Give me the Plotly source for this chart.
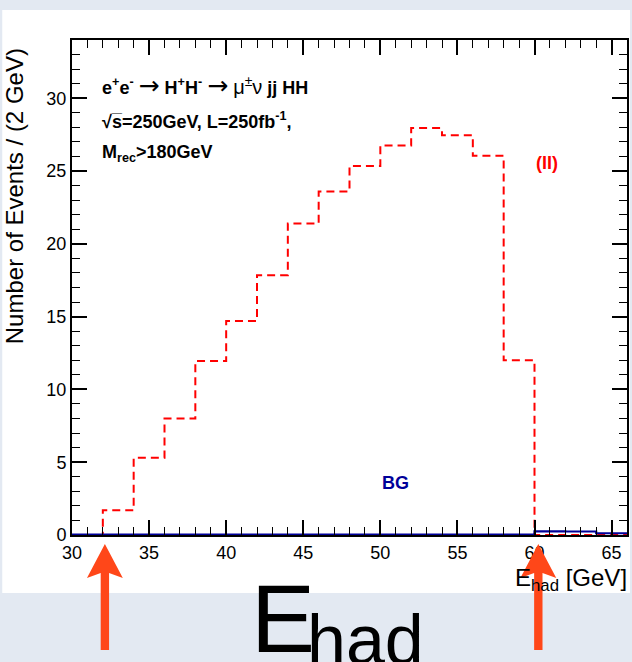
import plotly.graph_objects as go

# ---- data ----
bin_edges = [30, 32, 34, 36, 38, 40, 42, 44, 46, 48, 50, 52, 54, 56, 58, 60, 62, 64, 66]
signal_II = [0.0, 1.7, 5.3, 8.0, 11.95, 14.7, 17.85, 21.4, 23.6, 25.35, 26.75, 27.95, 27.45, 26.05, 12.0, 0.0, 0.0, 0.0]
background = [0.02, 0.02, 0.02, 0.02, 0.02, 0.02, 0.02, 0.02, 0.02, 0.02, 0.02, 0.02, 0.02, 0.02, 0.02, 0.25, 0.24, 0.12]
x_ticks = [30, 35, 40, 45, 50, 55, 60, 65]
y_ticks = [0, 5, 10, 15, 20, 25, 30]

W, H = 632, 662
L, R, T, B = 72, 629, 40, 535


def px(x):
    return (x - L) / (R - L)


def py(y):
    return (B - y) / (B - T)


FONT = "Liberation Sans, Arial, Helvetica, sans-serif"

fig = go.Figure()
fig.add_trace(go.Scatter(
    x=bin_edges, y=signal_II + [signal_II[-1]], mode="lines", line_shape="hv",
    line=dict(color="#ff0000", width=2, dash="8px,5px"), showlegend=False, hoverinfo="skip"))
fig.add_trace(go.Scatter(
    x=bin_edges, y=background + [background[-1]], mode="lines", line_shape="hv",
    line=dict(color="#000099", width=2.2), showlegend=False, hoverinfo="skip"))

axis_common = dict(
    showgrid=False, zeroline=False, showline=True, linecolor="black", linewidth=2,
    mirror="allticks", ticks="inside", ticklen=15, tickwidth=1.5, tickcolor="black",
    tickfont=dict(family=FONT, size=18, color="black"),
    minor=dict(ticks="inside", ticklen=8, tickwidth=1.2, tickcolor="black", dtick=1),
)
fig.update_xaxes(range=[30, 66], tickvals=x_ticks, **axis_common)
fig.update_yaxes(range=[0, 34], tickvals=y_ticks, **axis_common)

shapes = []
# white panel
shapes.append(dict(type="rect", xref="paper", yref="paper", x0=px(2), x1=px(632), y0=py(593), y1=py(10),
                   fillcolor="white", line=dict(width=0), layer="below"))


def arrow(cx):
    tip, base, notch, bottom, hw, sw = 544, 578, 573, 650, 18, 4.2
    pts = [(cx, tip), (cx + hw, base), (cx + sw, notch), (cx + sw, bottom), (cx - sw, bottom),
           (cx - sw, notch), (cx - hw, base)]
    path = "M " + " L ".join(f"{px(a):.5f},{py(b):.5f}" for a, b in pts) + " Z"
    return dict(type="path", xref="paper", yref="paper", path=path, fillcolor="#ff4719",
                line=dict(width=0), layer="above")


shapes.append(arrow(105))
shapes.append(arrow(540))

ann = []
def A(text, x, y, size, color="black", xanchor="left", yanchor="middle", angle=0):
    ann.append(dict(text=text, x=px(x), y=py(y), xref="paper", yref="paper", showarrow=False,
                    xanchor=xanchor, yanchor=yanchor, textangle=angle,
                    font=dict(family=FONT, size=size, color=color)))

ARW = "<span style='font-family:DejaVu Sans;font-size:25px'>→</span>"
A(f"<b>e<sup>+</sup>e<sup>-</sup></b>&nbsp;{ARW}&nbsp;<b>H<sup>+</sup>H<sup>-</sup></b>&nbsp;{ARW}&nbsp;"
  f"<span style='font-size:20px'>μ<sup>±</sup>ν</span> <b>jj HH</b>", 100, 85, 18)
A("<b>√s\u0305=250GeV, L=250fb<sup>-1</sup>,</b>", 100, 120, 18)
A("<b>M<sub>rec</sub>&gt;180GeV</b>", 100, 153, 18)
A("<b>(II)</b>", 549, 163, 18, color="#ff0000", xanchor="center")
A("<b>BG</b>", 397, 483, 18, color="#000099", xanchor="center")
A("Number of Events / (2 GeV)", 14, 196, 24, xanchor="center", angle=-90)
A("E<sub>had</sub> [GeV]", 631, 562, 24, xanchor="right", yanchor="top")
A("E", 250, 563, 96, yanchor="top")
A("had", 306, 599, 70, yanchor="top")

fig.update_layout(
    width=W, height=H, margin=dict(l=L, r=W - R, t=T, b=H - B, pad=0),
    paper_bgcolor="#e3e9f2", plot_bgcolor="white",
    shapes=shapes, annotations=ann, showlegend=False,
    font=dict(family=FONT, color="black"),
)
fig.write_html("out.html", config={"displayModeBar": False},
               post_script="document.body.style.margin='0';document.body.style.overflow='hidden';")
